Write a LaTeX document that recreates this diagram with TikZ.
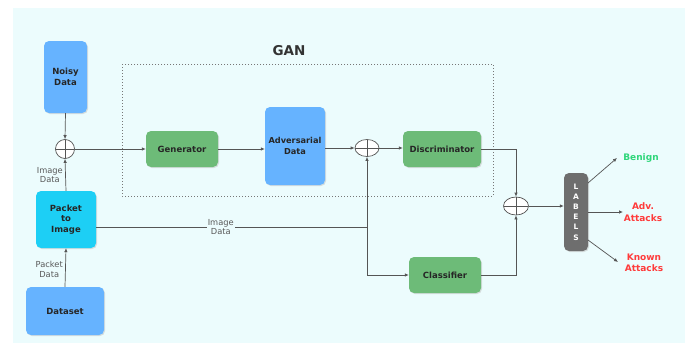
\documentclass[tikz,border=0pt]{standalone}
\usepackage{fontspec}
\setmainfont{DejaVu Sans}
\usetikzlibrary{shapes.geometric,arrows.meta,shadows}
\definecolor{bgc}{HTML}{ECFCFD}
\definecolor{blueb}{HTML}{66B3FF}
\definecolor{greenb}{HTML}{6DBB78}
\definecolor{cyanb}{HTML}{1DCFF5}
\definecolor{grayb}{HTML}{6E6E6E}
\definecolor{linec}{HTML}{555555}
\definecolor{benignc}{HTML}{2ED67A}
\definecolor{attackc}{HTML}{FF3B3B}
\tikzset{
  box/.style={rounded corners=5pt, inner sep=1pt, align=center, font=\bfseries\fontsize{8.5}{10.5}\selectfont, text=black!85,
    drop shadow={shadow xshift=1pt, shadow yshift=-1pt, fill=black!25, opacity=0.5}},
  bluebox/.style={box, fill=blueb},
  greenbox/.style={box, fill=greenb},
  cyanbox/.style={box, fill=cyanb},
  sumnode/.style={ellipse, draw=linec, fill=white, line width=0.7pt, inner sep=0pt,
    path picture={\draw[linec, line width=0.6pt] (path picture bounding box.north) -- (path picture bounding box.south)
      (path picture bounding box.west) -- (path picture bounding box.east);}},
  conn/.style={draw=linec, line width=0.7pt},
  arr/.style={conn, -{Latex[length=4pt,width=3.5pt]}},
  small/.style={font=\fontsize{8.3}{9.5}\selectfont, text=black!65, align=center},
  outlab/.style={font=\bfseries\fontsize{9}{11.5}\selectfont, align=center},
}
\begin{document}
\begin{tikzpicture}[x=1pt,y=-1pt]
\useasboundingbox (0,0) rectangle (686,343);
\fill[white] (0,0) rectangle (686,343);
\fill[bgc] (13,8) rectangle (685,343);
% GAN box
\draw[linec!80, line width=1pt, dash pattern=on 0.8pt off 2.2pt] (122,64) rectangle (493,196);
\node[font=\bfseries\fontsize{13.5}{15}\selectfont, text=black!80] (gan) at (289,51) {GAN};
% nodes
\node[bluebox, minimum width=43pt, minimum height=72pt] (noisy) at (65.5,77) {Noisy\\Data};
\node[sumnode, minimum width=19pt, minimum height=19pt] (s1) at (65,149) {};
\node[greenbox, minimum width=72pt, minimum height=36pt] (gen) at (182,149) {Generator};
\node[bluebox, minimum width=60pt, minimum height=78pt, font=\bfseries\fontsize{8.2}{10.5}\selectfont] (adv) at (295,146) {Adversarial\\Data};
\node[sumnode, minimum width=24pt, minimum height=17pt] (s2) at (367,148) {};
\node[greenbox, minimum width=78pt, minimum height=36pt] (disc) at (442,149) {Discriminator};
\node[greenbox, minimum width=72pt, minimum height=36pt] (cls) at (445,275) {Classifier};
\node[sumnode, minimum width=25pt, minimum height=18pt] (s3) at (516,206) {};
\node[box, fill=grayb, text=white!92, minimum width=24pt, minimum height=78pt, font=\bfseries\fontsize{7.5}{10.2}\selectfont] (lab) at (576,212) {L\\A\\B\\E\\L\\S};
\node[cyanbox, minimum width=60pt, minimum height=57pt] (p2i) at (66,219.5) {Packet\\to\\Image};
\node[bluebox, minimum width=78pt, minimum height=48pt] (ds) at (65,311) {Dataset};
% outputs
\node[outlab, text=benignc] (ben) at (641,158) {Benign};
\node[outlab, text=attackc] (advatt) at (643,212) {Adv.\\Attacks};
\node[outlab, text=attackc] (known) at (644,263) {Known\\Attacks};
\coordinate (benA) at (617,158);
\coordinate (advA) at (623,212);
\coordinate (knA) at (618,262);
% connectors
\draw[arr] (noisy.south) -- (s1.north);
\draw[arr] (ds.north) -- node[small, left=-1pt, pos=0.45] (pdl) {Packet\\Data} (p2i.south);
\draw[arr] (p2i.north) -- node[small, left=-1pt, pos=0.5] (idl) {Image\\Data} (s1.south);
\draw[arr] (s1.east) -- (gen.west);
\draw[arr] (gen.east) -- (adv.west |- gen.east);
\draw[arr] (adv.east |- s2.west) -- (s2.west);
\draw[arr] (s2.east) -- (disc.west |- s2.east);
\coordinate (j1) at (367,227);
\coordinate (j2) at (367,275);
\draw[conn] (p2i.east |- j1) -- node[small, fill=bgc, inner sep=1pt, pos=0.46] (idm) {Image\\Data} (j1);
\draw[arr] (j1) -- (s2.south);
\draw[arr] (j1) -- (j2) -- (cls.west);
\draw[arr] (disc.east) -| (s3.north);
\draw[arr] (cls.east) -| (s3.south);
\draw[arr] (s3.east) -- (lab.west |- s3.east);
\draw[arr] (588,183) -- (benA);
\draw[arr] (lab.east |- advA) -- (advA);
\draw[arr] (588,240) -- (knA);
\end{tikzpicture}
\end{document}
